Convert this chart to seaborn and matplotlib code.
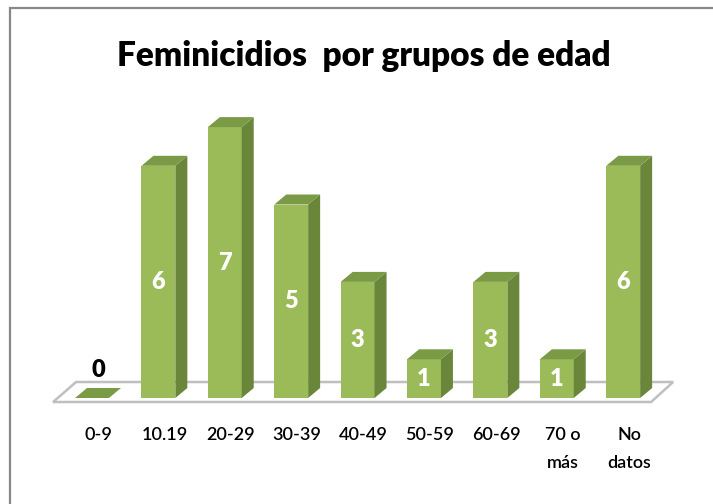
import matplotlib
matplotlib.use("Agg")
import matplotlib.pyplot as plt
import seaborn as sns
import pandas as pd
from matplotlib.patches import Polygon, Rectangle
from matplotlib.transforms import ScaledTranslation

categories = ["0-9", "10.19", "20-29", "30-39", "40-49", "50-59", "60-69", "70 o\nmás", "No\ndatos"]
values = [0, 6, 7, 5, 3, 1, 3, 1, 6]
title = "Feminicidios  por grupos de edad"

FRONT = "#9BBB59"
SIDE = "#6A863A"
TOP = "#7A9A46"

sns.set_style("white")
plt.rcParams["font.family"] = ["Lato", "DejaVu Sans"]
plt.rcParams["text.color"] = "black"
plt.rcParams["xtick.color"] = "black"

W, H, DPI = 713, 504, 100
fig = plt.figure(figsize=(W / DPI, H / DPI), dpi=DPI)
ax_left, ax_w = 58.8, 597.6
ax_bottom_from_top, unit_px = 398.0, 38.7
ymax = 8.0
ax_h = ymax * unit_px
ax = fig.add_axes([ax_left / W, (H - ax_bottom_from_top) / H, ax_w / W, ax_h / H])

df = pd.DataFrame({"grupo": categories, "n": values})
sns.barplot(data=df, x="grupo", y="n", color=FRONT, saturation=1, width=0.51,
            linewidth=0, ax=ax, zorder=3)
ax.set_xlim(-0.5, len(categories) - 0.5)
ax.set_ylim(0, ymax)

px_x = (len(categories)) / ax_w
px_y = ymax / ax_h
dx, dy = 12 * px_x, 10 * px_y

fl_front = -4 * px_y
fl_back = 16 * px_y
x_first = ax.patches[0].get_x()
x_last = ax.patches[-1].get_x() + ax.patches[-1].get_width()
floor = Polygon([(x_first - 22 * px_x, fl_front), (x_last + 11 * px_x, fl_front),
                 (x_last + 33 * px_x, fl_back), (x_first + 1 * px_x, fl_back)],
                closed=True, facecolor="white", edgecolor="#BFBFBF", linewidth=1.8,
                zorder=1, clip_on=False)
ax.add_patch(floor)

for p, v in zip(list(ax.patches[:len(values)]), values):
    x0, w, h = p.get_x(), p.get_width(), p.get_height()
    if h > 0:
        side = Polygon([(x0 + w, 0), (x0 + w + dx, dy), (x0 + w + dx, h + dy), (x0 + w, h)],
                       closed=True, facecolor=SIDE, edgecolor="none", zorder=3, clip_on=False)
        ax.add_patch(side)
    top = Polygon([(x0, h), (x0 + dx, h + dy), (x0 + w + dx, h + dy), (x0 + w, h)],
                  closed=True, facecolor=TOP, edgecolor="none", zorder=3, clip_on=False)
    ax.add_patch(top)
    cx = x0 + w / 2
    if h > 0:
        ax.text(cx, h / 2, str(v), ha="center", va="center", color="white",
                fontsize=17, fontweight="heavy", zorder=5)
    else:
        ax.text(cx + dx / 2, h + dy + 7 * px_y, str(v), ha="center", va="bottom",
                color="black", fontsize=17, fontweight="heavy", zorder=5)

ax.set_xlabel("")
ax.set_ylabel("")
ax.set_yticks([])
ax.tick_params(axis="x", length=0, pad=21)
ax.set_xticks(range(len(categories)))
ax.set_xticklabels(categories, fontsize=13, fontweight="semibold", linespacing=1.9,
                   va="top", color="black")
for lab in ax.get_xticklabels():
    lab.set_transform(lab.get_transform() + ScaledTranslation(6 / DPI, 0, fig.dpi_scale_trans))
for s in ax.spines.values():
    s.set_visible(False)
ax.patch.set_alpha(0)

fig.text(364 / W, 1 - 56 / H, title, ha="center", va="center", fontsize=24,
         fontweight="heavy", color="black")

border = Rectangle((10 / W, -0.05), 1.1, 1 - 8 / H + 0.05, transform=fig.transFigure,
                   facecolor="none", edgecolor="#888888", linewidth=1.6, clip_on=False)
fig.patches.append(border)

fig.savefig("out.png", dpi=DPI)
